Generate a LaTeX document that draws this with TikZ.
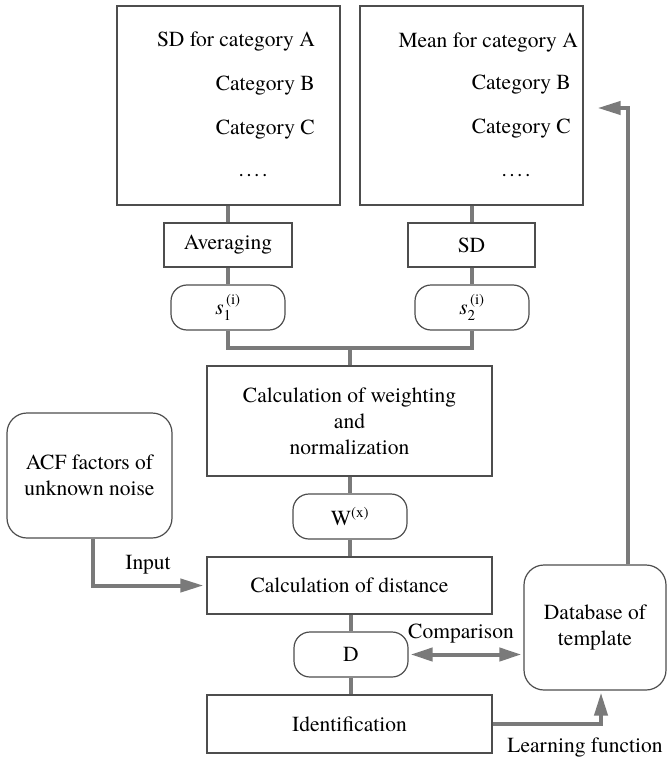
\documentclass[tikz,border=0pt]{standalone}
\usepackage{fontspec}
\usepackage{amsmath}
\setmainfont{TeX Gyre Termes}
\usetikzlibrary{arrows.meta,calc}
\definecolor{boxc}{HTML}{4D4D4D}
\definecolor{linec}{HTML}{7A7A7A}
\begin{document}
\begin{tikzpicture}[x=1pt,y=-1pt,
  every node/.style={font=\rmfamily\fontsize{21.5}{26}\selectfont, inner sep=0pt},
  sbox/.style={draw=boxc, line width=1.2pt, rectangle, align=center},
  pill/.style={draw=boxc, line width=1.2pt, rectangle, rounded corners=16pt, minimum width=114pt, minimum height=45pt},
  rbox/.style={draw=boxc, line width=1.2pt, rectangle, rounded corners=20pt, align=center},
  conn/.style={draw=linec, line width=4pt},
  arr/.style={conn, -{Triangle[length=23pt,width=13pt]}},
  darr/.style={conn, {Triangle[length=22pt,width=13pt]}-{Triangle[length=22pt,width=13pt]}},
  txt/.style={}]
\useasboundingbox (0,0) rectangle (667,762);
% big boxes
\node[sbox, minimum width=223pt, minimum height=199pt] (bigL) at (228.5,105.5) {};
\node[sbox, minimum width=223pt, minimum height=199pt] (bigR) at (471.5,105.5) {};
\node[txt, anchor=east] (la) at (315,42) {SD for category A};
\node[txt, anchor=east] (lb) at (315,86) {Category B};
\node[txt, anchor=east] (lc) at (315,130) {Category C};
\node[txt] (ld) at (253,176) {.\hspace{2.5pt}.\hspace{2.5pt}.\hspace{2.5pt}.};
\node[txt, anchor=east] (ra) at (578,43) {Mean for category A};
\node[txt, anchor=east] (rb) at (571,85) {Category B};
\node[txt, anchor=east] (rc) at (571,129) {Category C};
\node[txt] (rd) at (516,176) {.\hspace{2.5pt}.\hspace{2.5pt}.\hspace{2.5pt}.};
% processing
\node[sbox, minimum width=128pt, minimum height=44pt] (avg) at (228,245) {Averaging};
\node[sbox, minimum width=127pt, minimum height=44pt] (sd) at (471.5,245) {SD};
\node[pill] (s1) at (228,307.5) {$\textit{s}_{\text{1}}^{\,\text{(i)}}$};
\node[pill] (s2) at (472,307.5) {$\textit{s}_{\text{2}}^{\,\text{(i)}}$};
\node[sbox, minimum width=285pt, minimum height=110pt] (calcw) at (349.5,421) {Calculation of weighting\\and\\normalization};
\node[pill] (W) at (350,516.5) {W$^{\text{(x)}}$};
\node[sbox, minimum width=285pt, minimum height=57pt] (calcd) at (349.5,585.5) {Calculation of distance};
\node[pill] (D) at (351,654.5) {D};
\node[sbox, minimum width=285pt, minimum height=58pt] (ident) at (349.5,724) {Identification};
\node[rbox, minimum width=165pt, minimum height=125pt] (acf) at (89.5,475.5) {ACF factors of\\unknown noise};
\node[rbox, minimum width=142pt, minimum height=125pt] (db) at (595,627.5) {Database of\\template};
% labels
\node[txt] (inlab) at (148,565) {Input};
\node[txt] (cmplab) at (461,634) {Comparison};
\node[txt] (lflab) at (585,747) {Learning function};
% connectors
\coordinate (merge) at (350,348);
\draw[conn] (bigL.south -| avg.north) -- (avg.north);
\draw[conn] (avg.south) -- (s1.north);
\draw[conn] (bigR.south -| sd.north) -- (sd.north);
\draw[conn] (sd.south) -- (sd.south |- s2.north);
\draw[conn] (s1.south) |- (merge) -| (s2.south);
\draw[conn] (merge) -- (calcw.north -| merge);
\draw[conn] (calcw.south -| W.north) -- (W.north);
\draw[conn] (W.south) -- (W.south |- calcd.north);
\draw[conn] (calcd.south -| D.north) -- (D.north);
\draw[conn] (D.south) -- (D.south |- ident.north);
\draw[arr] ($(acf.south)+(3.5,0)$) |- ($(calcd.west)+(-3,0)$);
\draw[darr] ($(D.east)+(2,0)$) -- ($(D.east -| db.west)+(-2,0)$);
\draw[arr] (ident.east) -| ($(db.south)+(6,2)$);
\coordinate (fbturn) at ($(db.north)+(33,0)$);
\draw[arr] (fbturn) |- ($(bigR.east)+(14,2.5)$);
\end{tikzpicture}
\end{document}
